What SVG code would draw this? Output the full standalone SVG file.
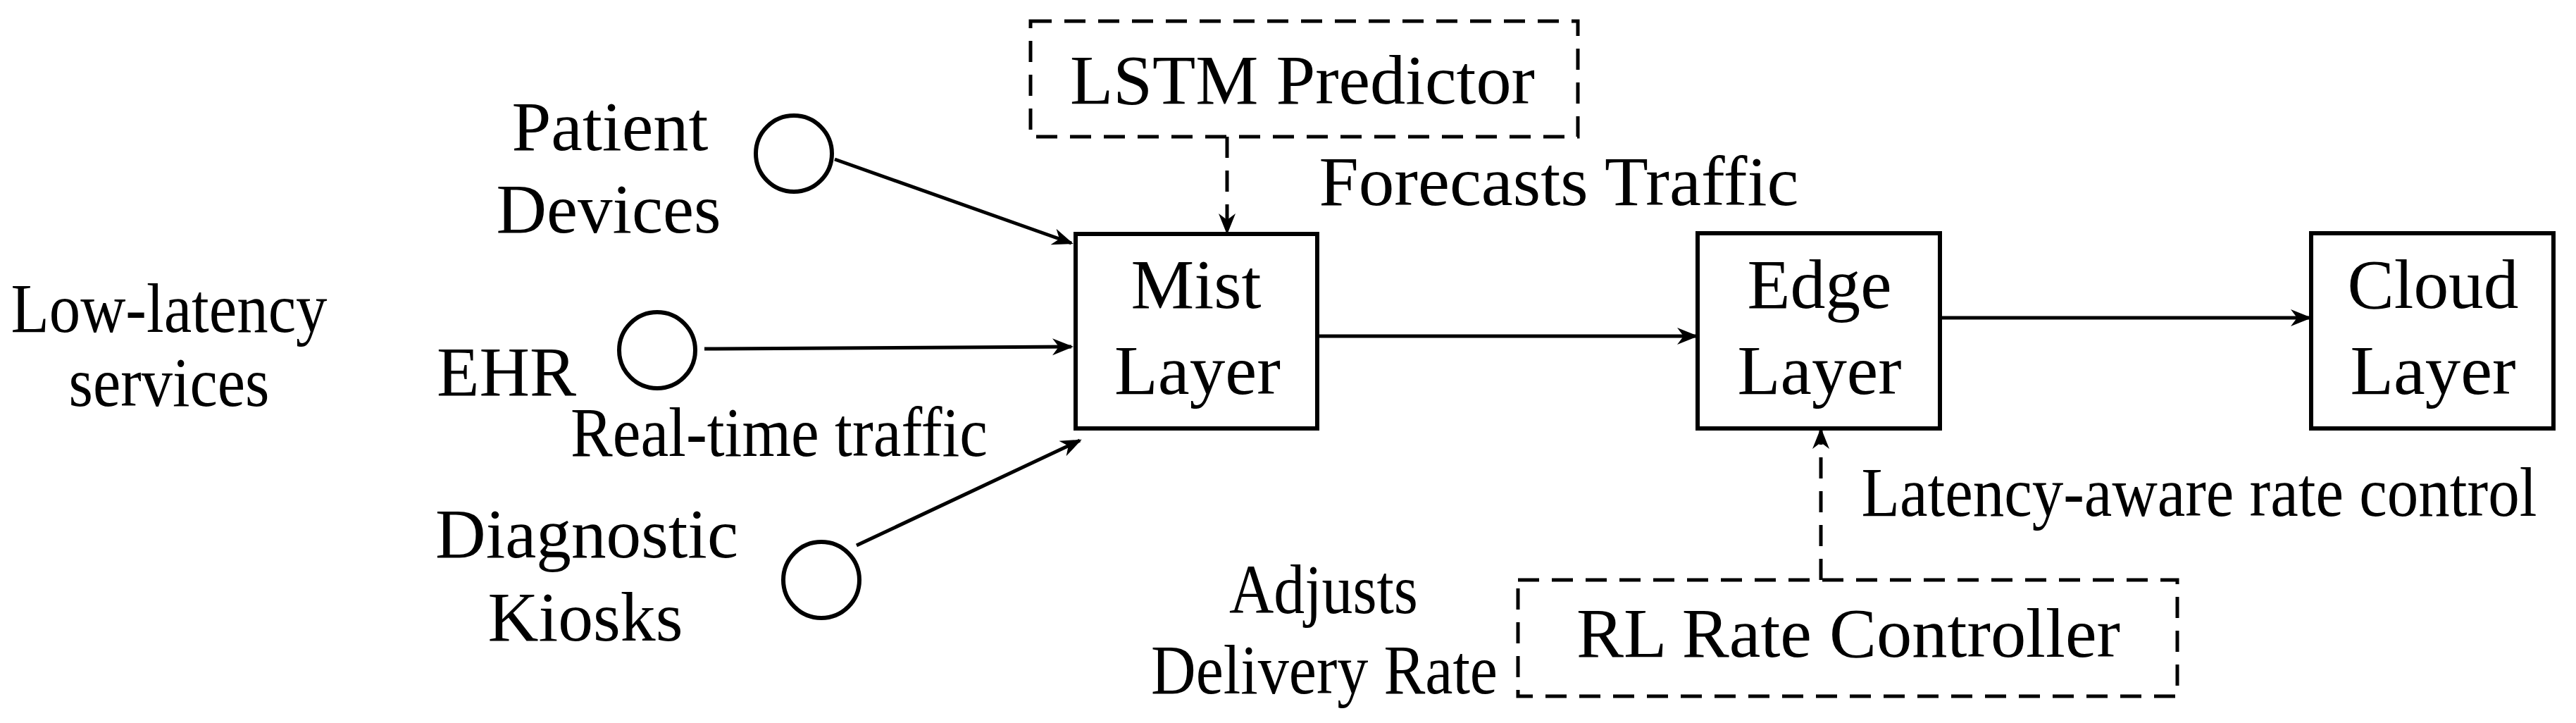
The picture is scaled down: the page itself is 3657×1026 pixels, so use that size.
<svg xmlns="http://www.w3.org/2000/svg" width="3657" height="1026" viewBox="0 0 3657 1026">
<style>
text{font-family:"Liberation Serif","Times New Roman",serif;font-size:100px;fill:#000;text-anchor:middle}
.b{fill:#fff;stroke:#000;stroke-width:6}
.d{fill:none;stroke:#000;stroke-width:5;stroke-dasharray:30,18}
.c{fill:none;stroke:#000;stroke-width:5}
</style>
<defs>
<marker id="a" viewBox="0 0 10 10" refX="9" refY="5" markerWidth="30" markerHeight="30" markerUnits="userSpaceOnUse" orient="auto"><path d="M0,1 L10,5 L0,9 L3,5 Z"/></marker>
</defs>
<rect width="3657" height="1026" fill="#fff"/>
<g id="connectors">
<line class="c" x1="1185" y1="226" x2="1521" y2="345" marker-end="url(#a)"/>
<line class="c" x1="1000" y1="495" x2="1521" y2="492" marker-end="url(#a)"/>
<line class="c" x1="1216" y1="774" x2="1533" y2="625" marker-end="url(#a)"/>
<line class="c" x1="1870" y1="477" x2="2408" y2="477" marker-end="url(#a)"/>
<line class="c" x1="2754" y1="451" x2="3279" y2="451" marker-end="url(#a)"/>
<line class="d" x1="1742" y1="194" x2="1742" y2="330" stroke-dasharray="20,14" marker-end="url(#a)"/>
<line class="d" x1="2585" y1="823" x2="2585" y2="610" stroke-dasharray="20,14" marker-end="url(#a)"/>
</g>
<g id="lstm"><rect class="d" x="1463" y="30" width="777" height="164"/><text x="1849" y="147" textLength="660" lengthAdjust="spacingAndGlyphs">LSTM Predictor</text></g>
<g id="rl"><rect class="d" x="2155" y="823" width="936" height="165"/><text x="2624" y="932" textLength="772" lengthAdjust="spacingAndGlyphs">RL Rate Controller</text></g>
<g id="mist"><rect class="b" x="1527" y="332" width="343" height="276"/><text x="1698" y="437" textLength="185" lengthAdjust="spacingAndGlyphs">Mist</text><text x="1700" y="559" textLength="236" lengthAdjust="spacingAndGlyphs">Layer</text></g>
<g id="edge"><rect class="b" x="2410" y="331" width="344" height="277"/><text x="2583" y="437" textLength="205" lengthAdjust="spacingAndGlyphs">Edge</text><text x="2583" y="559" textLength="233" lengthAdjust="spacingAndGlyphs">Layer</text></g>
<g id="cloud"><rect class="b" x="3281" y="331" width="344" height="277"/><text x="3454" y="437" textLength="243" lengthAdjust="spacingAndGlyphs">Cloud</text><text x="3454" y="559" textLength="235" lengthAdjust="spacingAndGlyphs">Layer</text></g>
<g id="patient"><circle class="b" cx="1127" cy="218" r="54" stroke-width="4"/><text x="866" y="213" textLength="279" lengthAdjust="spacingAndGlyphs">Patient</text><text x="864" y="330" textLength="319" lengthAdjust="spacingAndGlyphs">Devices</text></g>
<g id="ehr"><circle class="b" cx="933" cy="497" r="54" stroke-width="4"/><text x="719" y="561" textLength="198" lengthAdjust="spacingAndGlyphs">EHR</text></g>
<g id="diag"><circle class="b" cx="1166" cy="823" r="54" stroke-width="4"/><text x="833" y="791" textLength="430" lengthAdjust="spacingAndGlyphs">Diagnostic</text><text x="831" y="909" textLength="277" lengthAdjust="spacingAndGlyphs">Kiosks</text></g>
<g id="labels">
<text x="240" y="471" textLength="449" lengthAdjust="spacingAndGlyphs">Low-latency</text><text x="240" y="576" textLength="285" lengthAdjust="spacingAndGlyphs">services</text>
<text x="1106" y="647" textLength="592" lengthAdjust="spacingAndGlyphs">Real-time traffic</text>
<text x="2213" y="291" textLength="681" lengthAdjust="spacingAndGlyphs">Forecasts Traffic</text>
<text x="3122" y="732" textLength="959" lengthAdjust="spacingAndGlyphs">Latency-aware rate control</text>
<text x="1879" y="870" textLength="268" lengthAdjust="spacingAndGlyphs">Adjusts</text>
<text x="1880" y="984" textLength="492" lengthAdjust="spacingAndGlyphs">Delivery Rate</text>
</g>
</svg>
